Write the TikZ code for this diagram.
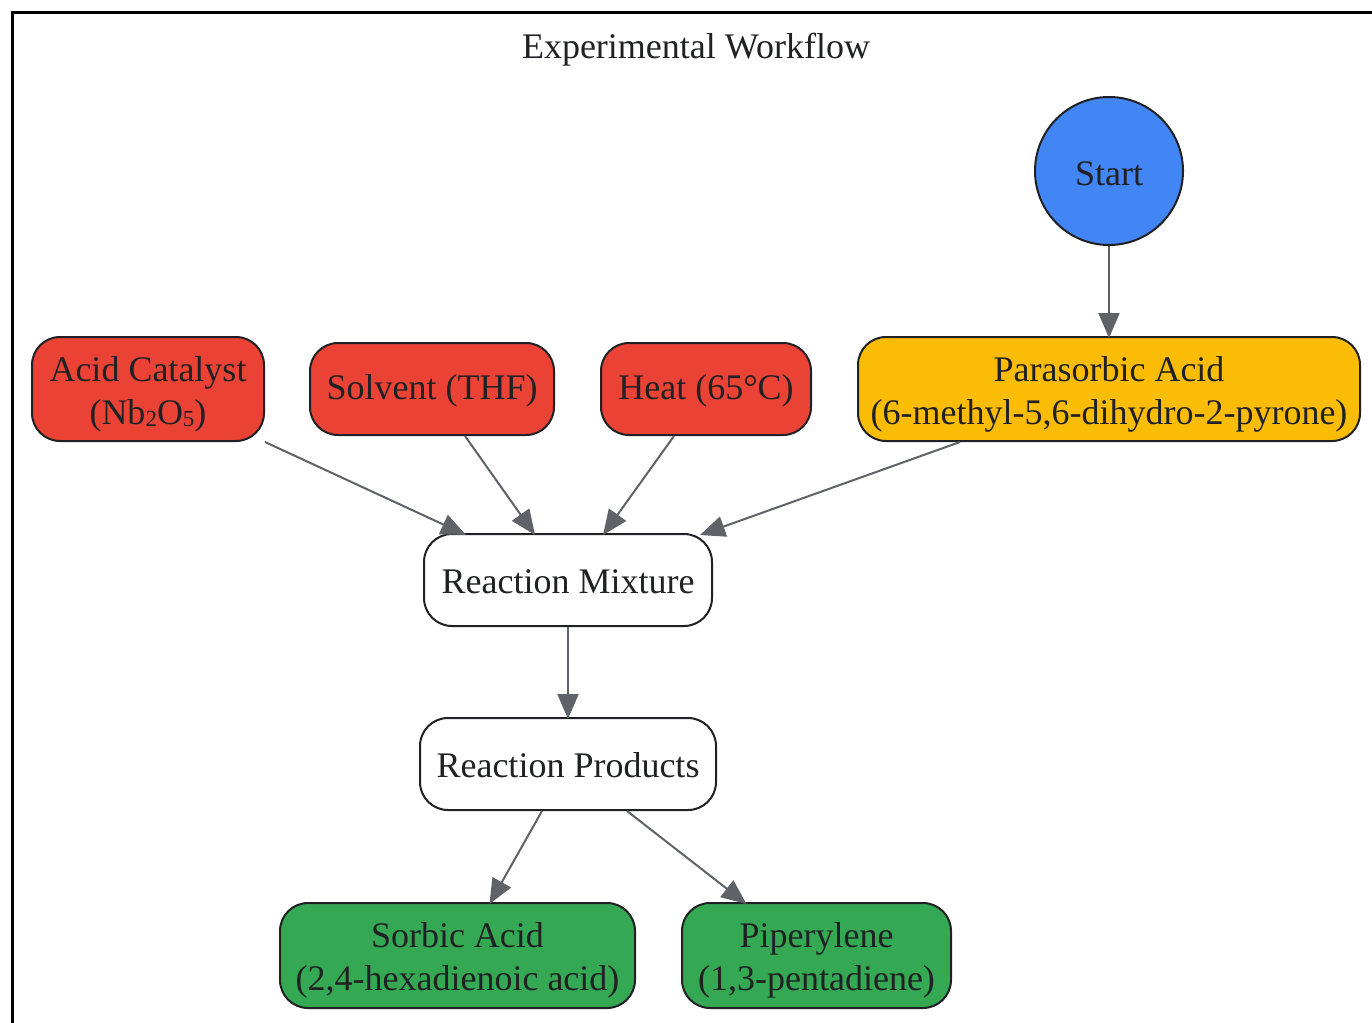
\documentclass[tikz,border=0pt]{standalone}
\usepackage{fontspec}
\setmainfont{Liberation Serif}
\usetikzlibrary{arrows.meta}
\definecolor{cred}{HTML}{EA4335}
\definecolor{cyellow}{HTML}{FBBC05}
\definecolor{cgreen}{HTML}{34A853}
\definecolor{cblue}{HTML}{4285F4}
\definecolor{cedge}{HTML}{5F6368}
\definecolor{ctext}{HTML}{202124}
\newcommand{\lowsub}[1]{\raisebox{-2pt}{\fontsize{23}{23}\selectfont #1}}
\newcommand{\tstrut}{\rule{0pt}{28pt}}
\newcommand{\bstrut}{\rule{0pt}{35pt}}
\newcommand{\cstrut}{\rule{0pt}{29pt}}
\tikzset{
  box/.style={draw=ctext, line width=2pt, rounded corners=28pt, inner sep=0pt,
    align=center, text=ctext, font=\fontsize{36}{43}\selectfont},
  onebox/.style={box, execute at begin node=\tstrut},
  redbox/.style={fill=cred},
  yellowbox/.style={box, fill=cyellow},
  greenbox/.style={box, fill=cgreen},
  whitebox/.style={onebox, fill=white},
  startnode/.style={circle, draw=ctext, line width=2pt, fill=cblue, inner sep=0pt,
    minimum size=148pt, text=ctext, font=\fontsize{36}{43}\selectfont,
    execute at begin node=\cstrut},
  conn/.style={draw=cedge, line width=2pt, -{Triangle[length=25pt,width=21pt]}},
}
\begin{document}
\begin{tikzpicture}[x=1pt,y=-1pt]
\useasboundingbox (0,0) rectangle (1372,1022);
\fill[white] (0,0) rectangle (1372,1022);
\draw[line width=3pt, black] (12,1030) -- (12,13) -- (1380,13);
\node[text=ctext, font=\fontsize{36}{43}\selectfont] (title) at (696,50) {Experimental Workflow};

\node[startnode] (start) at (1109,171) {Start};
\node[box, redbox, minimum width=232pt, minimum height=104pt] (acid) at (148,389) {\bstrut Acid Catalyst\\(Nb\lowsub{2}O\lowsub{5})};
\node[onebox, redbox, minimum width=244pt, minimum height=92pt] (solv) at (432,389) {Solvent (THF)};
\node[onebox, redbox, minimum width=210pt, minimum height=92pt] (heat) at (706,389) {Heat (65°C)};
\node[yellowbox, minimum width=502pt, minimum height=104pt] (para) at (1109,389) {\bstrut Parasorbic Acid\\(6-methyl-5,6-dihydro-2-pyrone)};
\node[whitebox, minimum width=288pt, minimum height=92pt] (mix) at (568,580) {Reaction Mixture};
\node[whitebox, minimum width=296pt, minimum height=92pt] (prod) at (568,764) {Reaction Products};
\node[greenbox, minimum width=355pt, minimum height=105pt] (sorb) at (457.5,955.5) {\bstrut Sorbic Acid\\(2,4-hexadienoic acid)};
\node[greenbox, minimum width=269pt, minimum height=105pt] (pip) at (816.5,955.5) {\bstrut Piperylene\\(1,3-pentadiene)};

\draw[conn] (start.south) -- ([yshift=-2pt]para.north);
\draw[conn] (acid.south east) -- ([xshift=-102pt,yshift=-2pt]mix.north);
\draw[conn] ([xshift=33pt]solv.south) -- ([xshift=-33pt,yshift=-2pt]mix.north);
\draw[conn] ([xshift=-32pt]heat.south) -- ([xshift=35pt,yshift=-2pt]mix.north);
\draw[conn] ([xshift=-149pt]para.south) -- ([xshift=132pt,yshift=-2pt]mix.north);
\draw[conn] (mix.south) -- ([yshift=-2pt]prod.north);
\draw[conn] ([xshift=-26pt]prod.south) -- ([xshift=32pt,yshift=-2pt]sorb.north);
\draw[conn] ([xshift=59pt]prod.south) -- ([xshift=-70pt,yshift=-2pt]pip.north);
\end{tikzpicture}
\end{document}
